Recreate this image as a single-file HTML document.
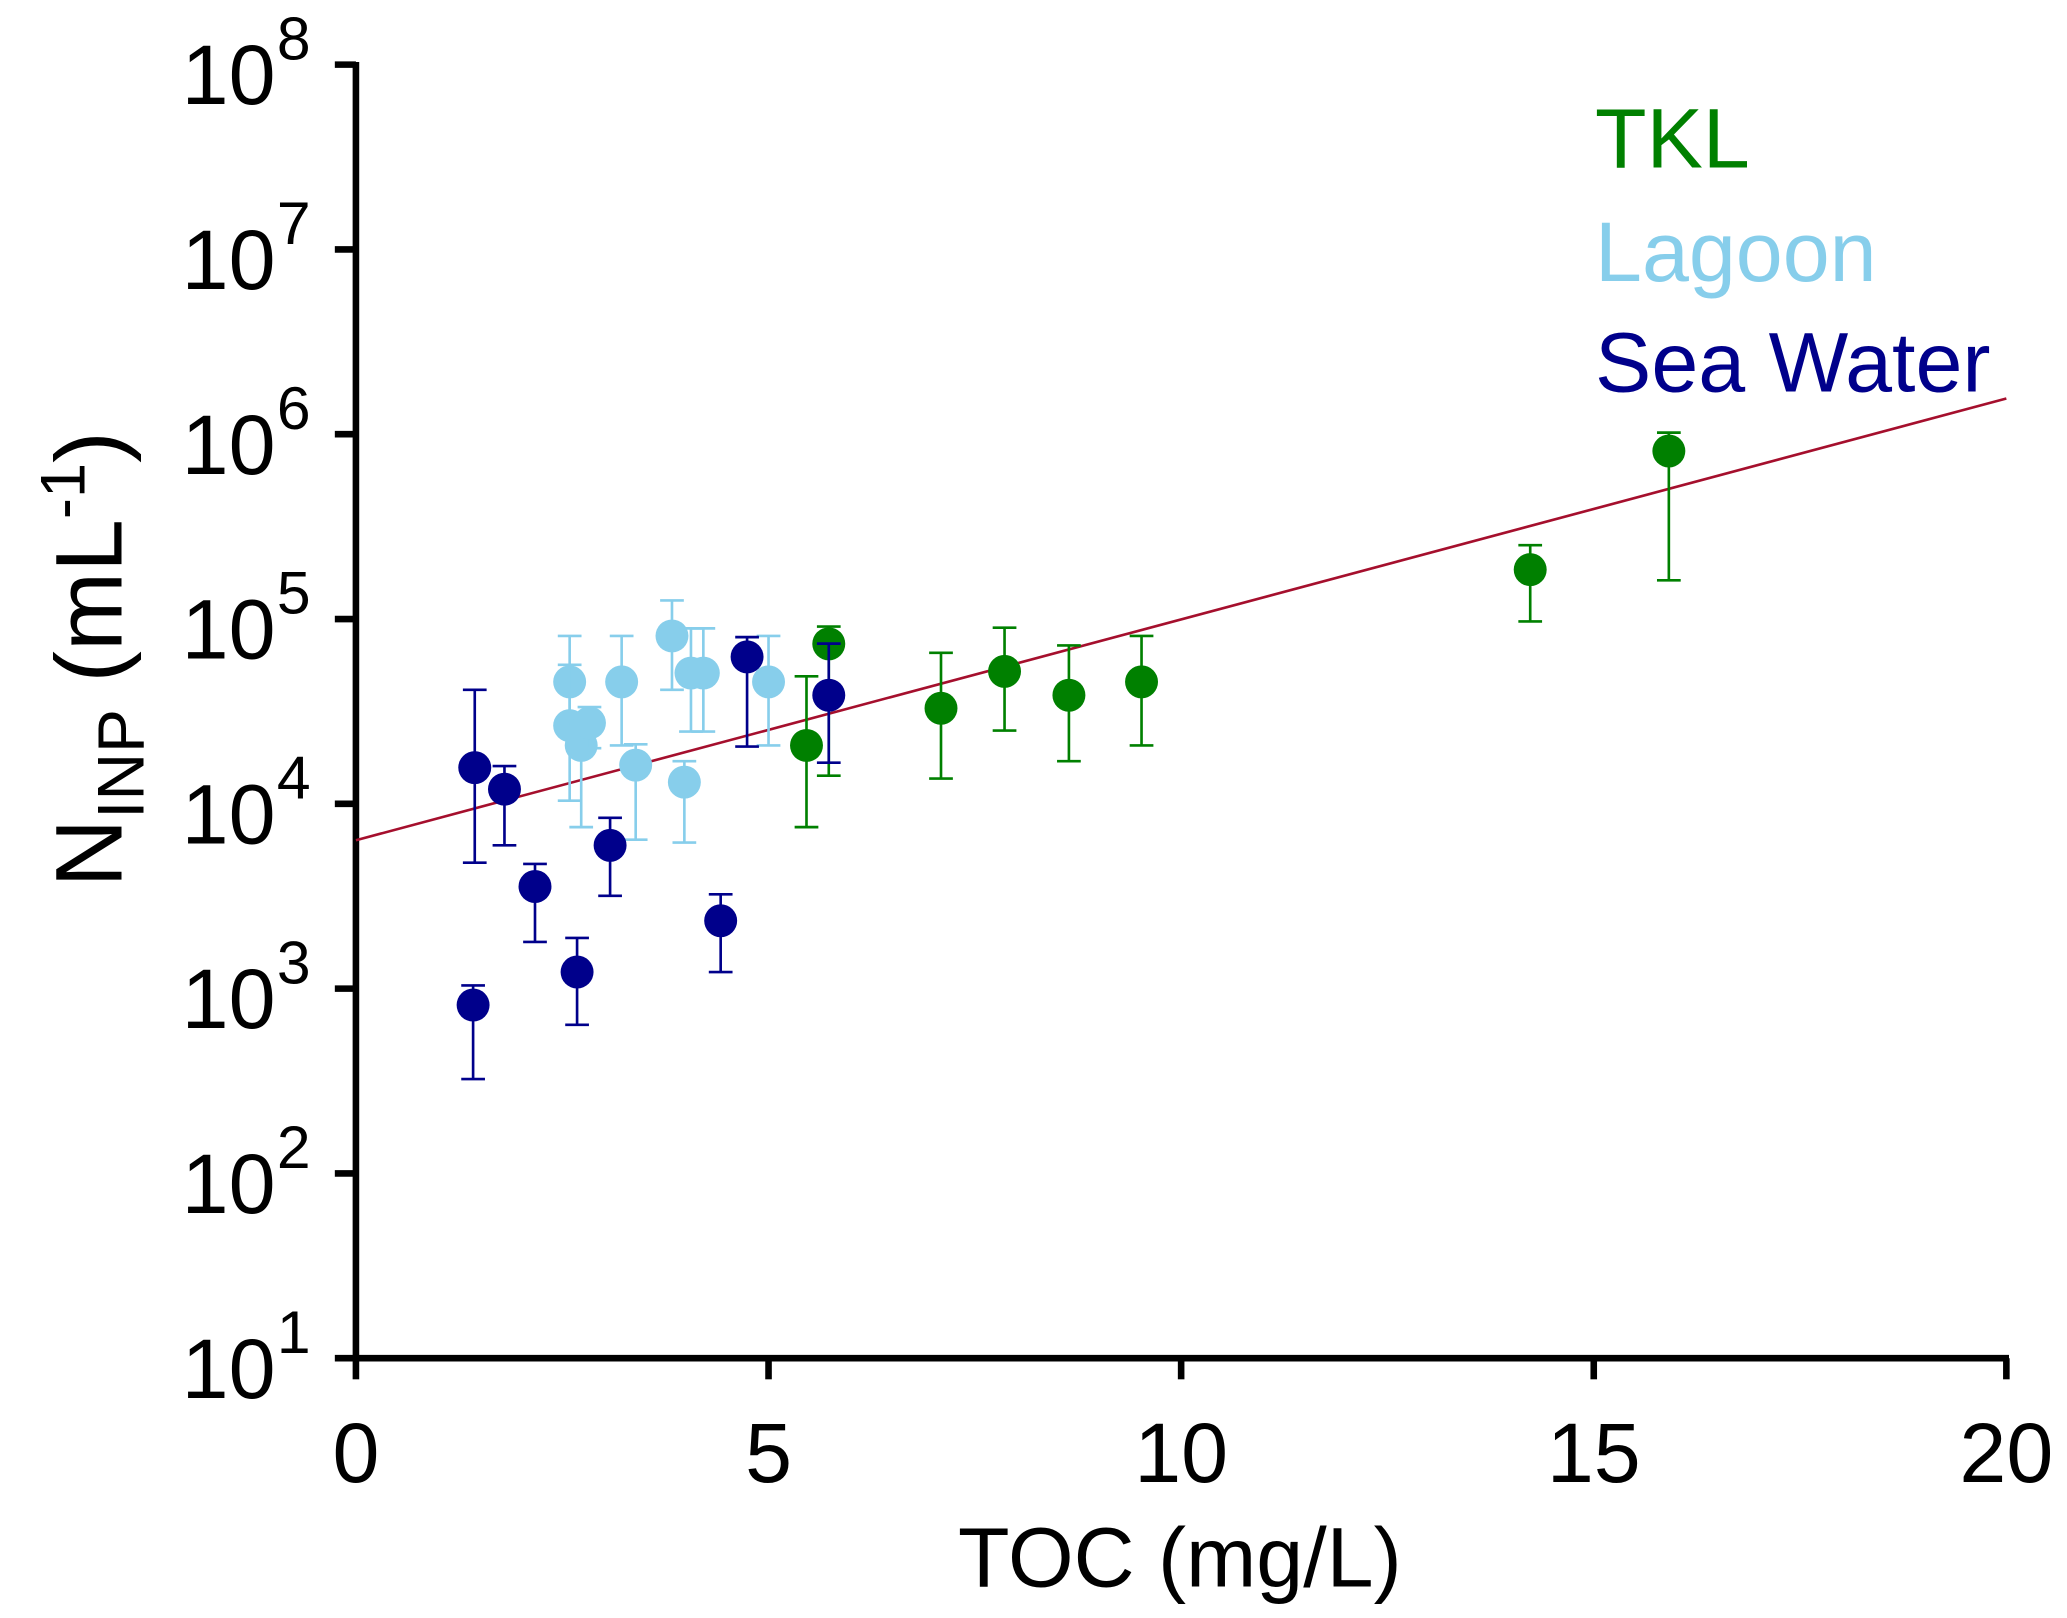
<!DOCTYPE html>
<html><head><meta charset="utf-8"><style>html,body{margin:0;padding:0;background:#fff}svg{display:block}text{font-family:"Liberation Sans",sans-serif}</style></head>
<body>
<svg id="chart" width="2067" height="1618" viewBox="0 0 1568 1227" preserveAspectRatio="none" xmlns="http://www.w3.org/2000/svg">
<g id="axes"></g>
<g id="marks"></g>
<text x="895" y="1203" font-size="64" text-anchor="middle">TOC (mg/L)</text>
<text transform="translate(92,500) rotate(-90)" font-size="72" text-anchor="middle">N<tspan font-size="50" dy="17">INP</tspan><tspan dy="-17"> (mL</tspan><tspan font-size="48" dy="-28">-1</tspan><tspan dy="28">)</tspan></text>
<text x="1210" y="127" font-size="64" fill="#008000">TKL</text>
<text x="1210" y="213" font-size="64" fill="#87ceeb">Lagoon</text>
<text x="1210" y="297" font-size="64" fill="#00008b">Sea Water</text>
</svg>
<script>
const xTicks=[0,5,10,15,20];
const yTickExps=[1,2,3,4,5,6,7,8];
const seaX=[1.44,1.80,2.17,2.68,3.08,1.42,4.42,4.74,5.73];
const seaY=[15700,12000,3570,1230,5960,815,2330,62400,38700];
const seaHi=[41400,16000,4730,1880,8400,1040,3240,79800,73600];
const seaLo=[4800,5960,1790,637,3180,324,1230,20400,16700];
const lagX=[2.59,2.59,2.73,2.83,3.22,3.39,3.83,4.06,4.21,3.98,5.0];
const lagY=[45700,26500,20700,27400,45700,16200,81000,51000,51000,13100,45700];
const lagHi=[81000,56500,27000,33400,81000,21000,126000,89000,89000,17000,81000];
const lagLo=[25000,10400,7480,20000,20700,6400,41400,24600,24600,6170,20700];
const tklX=[5.46,5.73,7.09,7.86,8.64,9.52,14.23,15.91];
const tklY=[20700,73400,32900,52100,38700,45700,185000,811000];
const tklHi=[49000,91000,65600,89700,72000,81000,251000,1020000];
const tklLo=[7480,14200,13700,24900,17000,20700,97000,162000];
const fitX=[0,20];
const fitY=[6350,1560000];

const X0=270,X1=1522,Ytop=49,Ybot=1030;
const sx=v=>X0+(v-0)/(20-0)*(X1-X0);
const sy=v=>Ybot-(Math.log10(v)-1)/(8-1)*(Ybot-Ytop);
const NS='http://www.w3.org/2000/svg';
function mk(tag,attrs,parent){const e=document.createElementNS(NS,tag);for(const k in attrs)e.setAttribute(k,attrs[k]);parent.appendChild(e);return e;}
const axes=document.getElementById('axes'),marks=document.getElementById('marks');
let e=mk('line',{x1:X0,y1:Ytop-2,x2:X0,y2:Ybot+2,stroke:'#000','stroke-width':5},axes);


e=mk('line',{x1:X0-2,y1:Ybot,x2:X1+2,y2:Ybot,stroke:'#000','stroke-width':5},axes);


yTickExps.forEach(p=>{const y=sy(Math.pow(10,p));
 let t=mk('line',{x1:X0-16,y1:y,x2:X0,y2:y,stroke:'#000','stroke-width':5},axes);
 
 
 let tx=mk('text',{x:209,y:y+30,'font-size':64,'text-anchor':'end'},axes);tx.textContent='10';
 
 
 let s=mk('text',{x:210,y:y-4,'font-size':46},axes);s.textContent=String(p);
 
 
});
xTicks.forEach(v=>{const x=sx(v);
 let t=mk('line',{x1:x,y1:Ybot,x2:x,y2:Ybot+16,stroke:'#000','stroke-width':5},axes);
 
 
 let tx=mk('text',{x:x,y:1124,'font-size':64,'text-anchor':'middle'},axes);tx.textContent=String(v);
 
 
});
let fl=mk('line',{x1:sx(fitX[0]),y1:sy(fitY[0]),x2:sx(fitX[1]),y2:sy(fitY[1]),stroke:'#a50f2d','stroke-width':2},marks);


function series(xs,ys,hi,lo,col,name){
 xs.forEach((v,i)=>{const x=sx(v);
  let g=mk('g',{},marks);
  
  
  mk('line',{x1:x,y1:sy(hi[i]),x2:x,y2:sy(lo[i]),stroke:col,'stroke-width':2},g);
  mk('line',{x1:x-9,y1:sy(hi[i]),x2:x+9,y2:sy(hi[i]),stroke:col,'stroke-width':2},g);
  mk('line',{x1:x-9,y1:sy(lo[i]),x2:x+9,y2:sy(lo[i]),stroke:col,'stroke-width':2},g);
  mk('circle',{cx:x,cy:sy(ys[i]),r:12.5,fill:col},g);
 });
}
series(lagX,lagY,lagHi,lagLo,'#87ceeb','lagoon');
series(tklX,tklY,tklHi,tklLo,'#008000','tkl');
series(seaX,seaY,seaHi,seaLo,'#00008b','sea-water');
</script>
</body></html>
